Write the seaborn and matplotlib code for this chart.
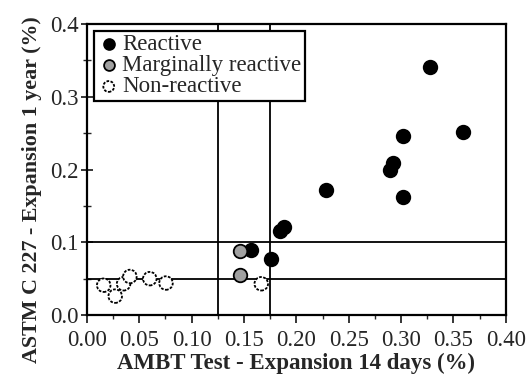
import matplotlib
matplotlib.use("Agg")
import matplotlib.pyplot as plt
from matplotlib.ticker import MultipleLocator
import seaborn as sns
import pandas as pd

reactive_x = [0.328, 0.359, 0.302, 0.292, 0.2895, 0.302, 0.228, 0.188, 0.184, 0.157, 0.1755]
reactive_y = [0.341, 0.251, 0.246, 0.209, 0.200, 0.162, 0.172, 0.121, 0.115, 0.090, 0.077]
marginal_x = [0.146, 0.146]
marginal_y = [0.088, 0.055]
nonreact_x = [0.016, 0.027, 0.035, 0.041, 0.060, 0.0755, 0.1665]
nonreact_y = [0.041, 0.026, 0.043, 0.053, 0.050, 0.044, 0.043]
limits_x = [0.125, 0.175]
limits_y = [0.05, 0.10]
categories = ["Reactive", "Marginally reactive", "Non-reactive"]
xtick_labels = ["0.00", "0.05", "0.10", "0.15", "0.20", "0.25", "0.30", "0.35", "0.40"]
ytick_labels = ["0.0", "0.1", "0.2", "0.3", "0.4"]

df = pd.DataFrame({
    "ambt": reactive_x + marginal_x + nonreact_x,
    "astm": reactive_y + marginal_y + nonreact_y,
    "cls": [categories[0]] * len(reactive_x) + [categories[1]] * len(marginal_x)
           + [categories[2]] * len(nonreact_x),
})

sns.set_style("ticks")
plt.rcParams["font.family"] = ["Liberation Serif", "DejaVu Serif"]

fig = plt.figure(figsize=(5.27, 3.88), dpi=100)
ax = fig.add_axes([0.165, 0.188, 0.7946, 0.750])

for v in limits_x:
    ax.axvline(v, color="black", lw=1.3, zorder=1)
for h in limits_y:
    ax.axhline(h, color="black", lw=1.3, zorder=1)

styles = {
    "Reactive": dict(color="black", edgecolor="black"),
    "Marginally reactive": dict(color="#a0a0a0", edgecolor="black"),
    "Non-reactive": dict(color="white", edgecolor="black"),
}
for c in categories:
    sub = df[df.cls == c]
    kw = styles[c]
    extra = {}
    if c == "Non-reactive":
        extra["linestyle"] = (0, (1.5, 0.8))
    sns.scatterplot(data=sub, x="ambt", y="astm", ax=ax, s=95, marker="o",
                    color=kw["color"], edgecolor=kw["edgecolor"], linewidth=1.3,
                    label=c, zorder=3, **extra)

ax.set_xlim(0, 0.40)
ax.set_ylim(0, 0.40)
ax.set_xticks([float(t) for t in xtick_labels])
ax.set_yticks([float(t) for t in ytick_labels])
ax.set_xticklabels(xtick_labels)
ax.set_yticklabels(ytick_labels)
ax.xaxis.set_minor_locator(MultipleLocator(0.025))
ax.yaxis.set_minor_locator(MultipleLocator(0.05))
fs = 16.5
ax.tick_params(axis="x", which="major", direction="out", length=6, width=1.3, labelsize=fs, pad=5)
ax.tick_params(axis="x", which="minor", direction="out", length=3, width=1.0)
ax.tick_params(axis="y", which="major", direction="inout", length=8, width=1.3, labelsize=fs, pad=2)
ax.tick_params(axis="y", which="minor", direction="inout", length=6, width=1.0)
for sp in ax.spines.values():
    sp.set_linewidth(1.6)
    sp.set_color("black")

ax.set_xlabel("AMBT Test - Expansion 14 days (%)", fontsize=fs, fontweight="bold", labelpad=1)
ax.set_ylabel("ASTM C 227 - Expansion 1 year (%)", fontsize=15.8, fontweight="bold")
ax.yaxis.set_label_coords(-0.107, 0.43)

leg = ax.legend(loc="upper left", fontsize=fs, frameon=True, fancybox=False,
                edgecolor="black", borderpad=0.15, handletextpad=0.1, labelspacing=0.0,
                handlelength=1.0, borderaxespad=0.3, markerscale=0.8)
leg.get_frame().set_linewidth(1.6)
leg.get_frame().set_alpha(1)

fig.savefig("out.png", dpi=100)
